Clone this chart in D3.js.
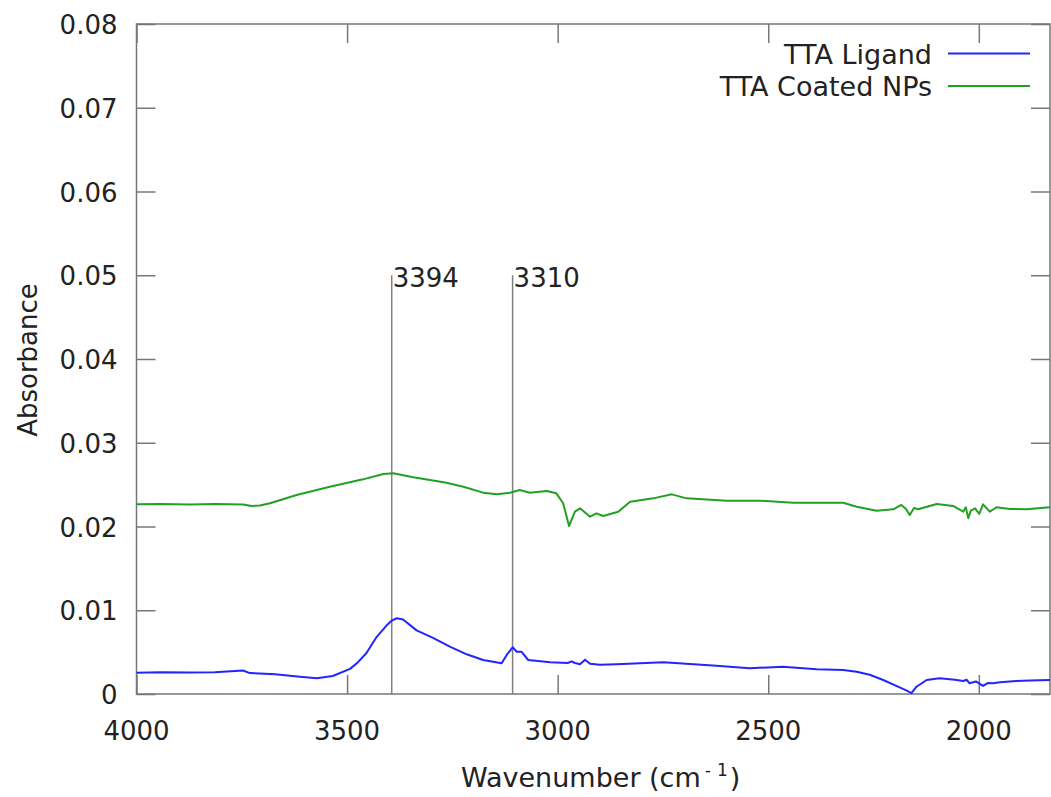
<!DOCTYPE html>
<html>
<head>
<meta charset="utf-8">
<script src="https://cdn.jsdelivr.net/npm/d3@7"></script>
<style>
  html, body { margin: 0; padding: 0; background: #fff; }
  svg text { font-family: "DejaVu Sans", Verdana, sans-serif; fill: #222; }
</style>
</head>
<body>
<svg id="chart" width="1051" height="797"></svg>
<script>
// FTIR spectra: TTA ligand vs. TTA-coated nanoparticles
const ligandWavenumber = [4000, 3944, 3873, 3814, 3747, 3731, 3671, 3612, 3572, 3534, 3493, 3474, 3454, 3430, 3406, 3393, 3382, 3367, 3335, 3296, 3256, 3216, 3177, 3133, 3121, 3107, 3097, 3086, 3070, 3018, 2976, 2967, 2959, 2947, 2935, 2923, 2900, 2860, 2749, 2623, 2544, 2465, 2385, 2322, 2290, 2259, 2227, 2188, 2171, 2160, 2148, 2124, 2093, 2057, 2037, 2029, 2022, 2007, 1990, 1979, 1966, 1950, 1911, 1879, 1831];
const ligandAbsorbance = [0.00254, 0.0026, 0.00258, 0.0026, 0.0028, 0.0025, 0.00235, 0.00207, 0.00187, 0.00215, 0.0030, 0.0038, 0.0049, 0.0068, 0.0082, 0.0088, 0.00904, 0.0089, 0.0076, 0.0067, 0.00565, 0.00474, 0.00406, 0.00366, 0.00466, 0.00558, 0.00505, 0.00505, 0.00406, 0.00378, 0.0037, 0.0039, 0.0037, 0.00355, 0.0041, 0.0036, 0.00348, 0.00355, 0.0038, 0.00338, 0.00307, 0.00326, 0.00295, 0.00287, 0.00266, 0.0023, 0.00167, 0.0008, 0.0004, 0.0001, 0.00087, 0.00167, 0.00187, 0.0017, 0.00155, 0.0017, 0.00128, 0.0015, 0.00096, 0.0013, 0.00128, 0.0014, 0.00155, 0.0016, 0.00167];

const coatedWavenumber = [4000, 3944, 3873, 3814, 3746, 3727, 3707, 3683, 3620, 3541, 3462, 3414, 3390, 3343, 3264, 3224, 3177, 3145, 3113, 3090, 3066, 3026, 3003, 2987, 2973, 2959, 2947, 2923, 2908, 2892, 2856, 2828, 2773, 2729, 2694, 2599, 2520, 2441, 2322, 2290, 2243, 2203, 2184, 2173, 2164, 2154, 2144, 2100, 2061, 2037, 2031, 2025, 2019, 2009, 1999, 1990, 1974, 1958, 1926, 1887, 1831];
const coatedAbsorbance = [0.02265, 0.0227, 0.02262, 0.02268, 0.02262, 0.02245, 0.0225, 0.02277, 0.02376, 0.02475, 0.02563, 0.02627, 0.02635, 0.02587, 0.02523, 0.02475, 0.02404, 0.02384, 0.02404, 0.02436, 0.02404, 0.02424, 0.02396, 0.02277, 0.02006, 0.02177, 0.02217, 0.02117, 0.02157, 0.02125, 0.02177, 0.02296, 0.02336, 0.02384, 0.02336, 0.02308, 0.02308, 0.02284, 0.02284, 0.02236, 0.02189, 0.02205, 0.02257, 0.0221, 0.02137, 0.0222, 0.02205, 0.02269, 0.02245, 0.02177, 0.0223, 0.02098, 0.0219, 0.02217, 0.0215, 0.02265, 0.02177, 0.0223, 0.0221, 0.02205, 0.02229];

const seriesNames = ["TTA Ligand", "TTA Coated NPs"];
const seriesColors = ["#2424ff", "#22a022"];

// vertical peak markers (position on the wavenumber axis) and their captions
const peakPositions = [3394, 3107];
const peakCaptions = ["3394", "3310"];
const peakHeight = 0.05;

const xTicks = [4000, 3500, 3000, 2500, 2000];
const yTicks = [0, 0.01, 0.02, 0.03, 0.04, 0.05, 0.06, 0.07, 0.08];
const yTickLabels = ["0", "0.01", "0.02", "0.03", "0.04", "0.05", "0.06", "0.07", "0.08"];

const svg = d3.select("#chart");
const plotLeft = 136.5, plotRight = 1050, plotTop = 24, plotBottom = 694;

const x = d3.scaleLinear().domain([4000, 1831]).range([plotLeft, plotRight]);
const y = d3.scaleLinear().domain([0, 0.08]).range([plotBottom, plotTop]);

const axisColor = "#777";
const tickLen = 19;

function styleAxis(g) {
  g.select(".domain").remove();
  g.selectAll(".tick line").attr("stroke", axisColor).attr("stroke-width", 1.5);
}

// bottom and top (mirrored) x ticks
svg.append("g").attr("transform", `translate(0,${plotBottom})`)
  .call(d3.axisBottom(x).tickValues(xTicks).tickSize(-tickLen).tickFormat(""))
  .call(styleAxis);
svg.append("g").attr("transform", `translate(0,${plotTop})`)
  .call(d3.axisTop(x).tickValues(xTicks).tickSize(-tickLen).tickFormat(""))
  .call(styleAxis);
// left and right (mirrored) y ticks
svg.append("g").attr("transform", `translate(${plotLeft},0)`)
  .call(d3.axisLeft(y).tickValues(yTicks).tickSize(-tickLen).tickFormat(""))
  .call(styleAxis);
svg.append("g").attr("transform", `translate(${plotRight},0)`)
  .call(d3.axisRight(y).tickValues(yTicks).tickSize(-tickLen).tickFormat(""))
  .call(styleAxis);

// tick labels
svg.append("g").selectAll("text").data(xTicks).join("text")
  .attr("x", d => x(d)).attr("y", plotBottom + 46)
  .attr("text-anchor", "middle").attr("font-size", 26)
  .text(d => d);
svg.append("g").selectAll("text").data(yTicks).join("text")
  .attr("x", plotLeft - 19).attr("y", d => y(d) + 10)
  .attr("text-anchor", "end").attr("font-size", 26)
  .text((d, i) => yTickLabels[i]);

// frame
svg.append("rect")
  .attr("x", plotLeft).attr("y", plotTop)
  .attr("width", plotRight - plotLeft).attr("height", plotBottom - plotTop)
  .attr("fill", "none").attr("stroke", axisColor).attr("stroke-width", 1.5);

// peak markers
const peaks = svg.append("g");
peaks.selectAll("line").data(peakPositions).join("line")
  .attr("x1", d => x(d)).attr("x2", d => x(d))
  .attr("y1", y(0)).attr("y2", y(peakHeight))
  .attr("stroke", "#808080").attr("stroke-width", 1.5);
peaks.selectAll("text").data(peakPositions).join("text")
  .attr("x", d => x(d) + 1).attr("y", y(peakHeight) + 12)
  .attr("font-size", 26)
  .text((d, i) => peakCaptions[i]);

// spectra
const line = d3.line().x(d => x(d[0])).y(d => y(d[1]));
const series = [
  d3.zip(ligandWavenumber, ligandAbsorbance),
  d3.zip(coatedWavenumber, coatedAbsorbance)
];
svg.append("g").selectAll("path").data(series).join("path")
  .attr("d", line)
  .attr("fill", "none")
  .attr("stroke", (d, i) => seriesColors[i])
  .attr("stroke-width", 2)
  .attr("stroke-linejoin", "round");

// legend
const legend = svg.append("g");
const legendRowY = [53.5, 86];
seriesNames.forEach((name, i) => {
  legend.append("text")
    .attr("x", 932).attr("y", legendRowY[i] + 10)
    .attr("text-anchor", "end").attr("font-size", 27)
    .text(name);
  legend.append("line")
    .attr("x1", 948).attr("x2", 1030)
    .attr("y1", legendRowY[i]).attr("y2", legendRowY[i])
    .attr("stroke", seriesColors[i]).attr("stroke-width", 2);
});

// axis titles
svg.append("text")
  .attr("transform", "translate(37,360) rotate(-90)")
  .attr("text-anchor", "middle").attr("font-size", 26)
  .text("Absorbance");

const xt = svg.append("text")
  .attr("x", 461).attr("y", 787).attr("font-size", 27);
xt.append("tspan").text("Wavenumber (cm");
xt.append("tspan").attr("dx", 4).attr("font-size", 17).attr("dy", -11).text("-");
xt.append("tspan").attr("dx", 6).attr("font-size", 17).text("1");
xt.append("tspan").attr("dx", 2).attr("dy", 11).text(")");
</script>
</body>
</html>
